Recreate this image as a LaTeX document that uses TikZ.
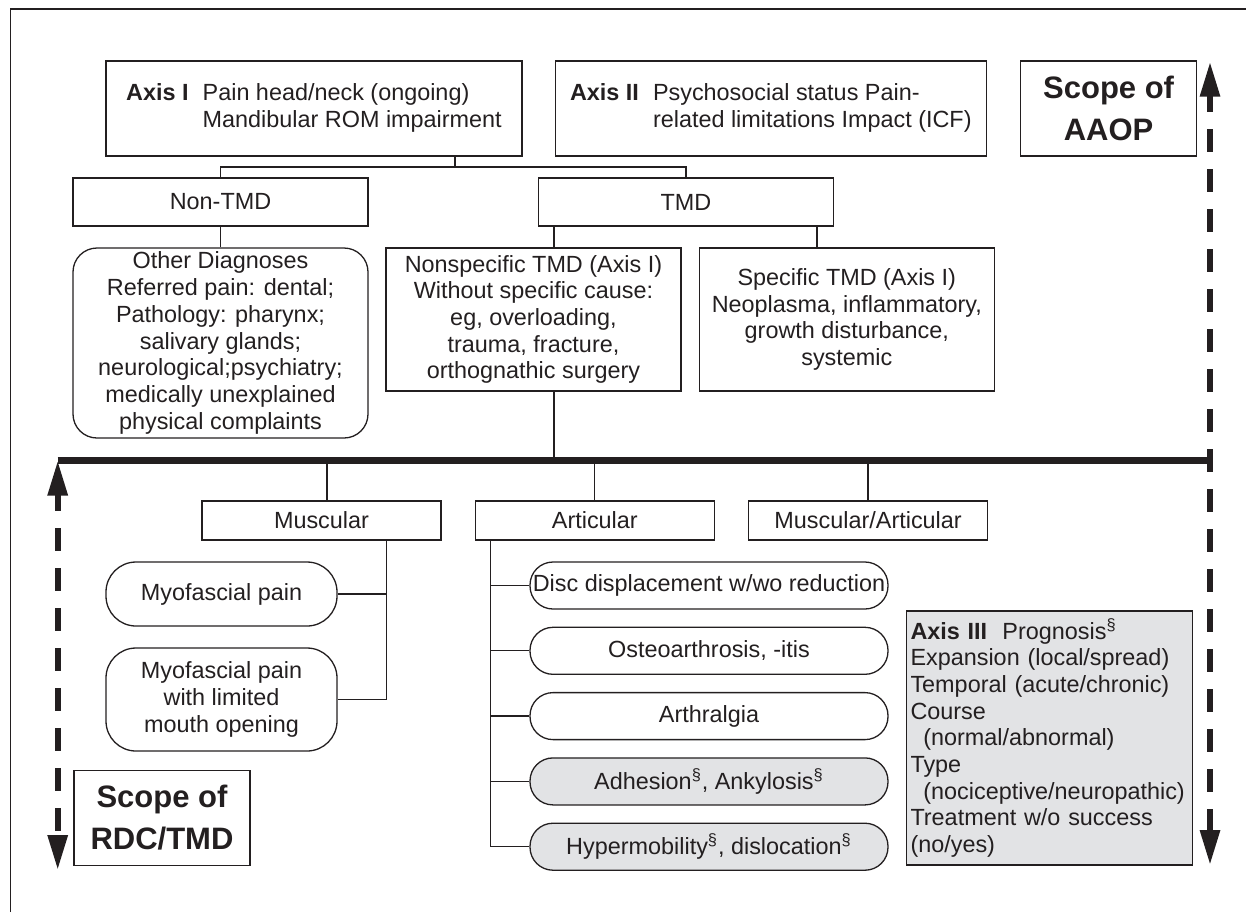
\documentclass[tikz,border=0pt]{standalone}
\usepackage{fontspec}
\setmainfont{Liberation Sans}
\usetikzlibrary{positioning}
\usetikzlibrary{arrows.meta}
\definecolor{ink}{RGB}{35,31,32}
\definecolor{shade}{RGB}{226,227,229}

\begin{document}
\begin{tikzpicture}[x=0.5pt,y=-0.5pt,
  every node/.style={text=ink,font=\fontsize{11.7}{13.35}\selectfont},
  box/.style={draw=ink,line width=0.65pt,inner sep=2pt,align=center},
  roundbox/.style={box,rounded corners=12pt},
  pill/.style={box,rounded corners=11.5pt,inner sep=0pt,minimum width=179pt,minimum height=23.5pt},
  scopebox/.style={box,font=\fontsize{15.5}{21}\selectfont\bfseries,minimum width=88pt,minimum height=47.5pt},
  scopeline/.style={draw=ink,line width=3pt,dash pattern=on 11.5pt off 8.5pt,dash phase=3pt,
    {Triangle[length=17.5pt,width=9.5pt]}-{Triangle[length=17.5pt,width=9.5pt]}},
  link/.style={draw=ink,line width=0.65pt}]
\useasboundingbox (0,0) rectangle (1246,912);
\path[link] (10.7,912) -- (10.7,9) -- (1246,9);
%% upper part: axes I, II
\path node[box,minimum width=208pt,minimum height=47.5pt] (axisI) at (314,108.5)
  {\begin{tabular}{@{}l@{\hspace{0.6em}}l@{}}\textbf{Axis I} & Pain head/neck (ongoing)\\ & Mandibular ROM impairment\end{tabular}};
\path node[box,minimum width=215.5pt,minimum height=47.5pt,right=16pt of axisI] (axisII)
  {\begin{tabular}{@{}l@{\hspace{0.6em}}l@{}}\textbf{Axis II} & Psychosocial status Pain-\\ & related limitations Impact (ICF)\end{tabular}};
\path node[scopebox,right=16.5pt of axisII] (aaop) {Scope of\\AAOP};
\path node[box,minimum width=147.5pt,minimum height=24pt] (nontmd) at (220.5,202) {Non-TMD};
\path node[box,minimum width=147.5pt,minimum height=24pt] (tmd) at (686,202) {TMD};
\path node[roundbox,minimum width=147.5pt,minimum height=95pt] (other) at (220.5,343)
  {Other Diagnoses\\Referred pain: dental;\\Pathology: pharynx;\\salivary glands;\\neurological;psychiatry;\\medically unexplained\\physical complaints};
\path node[box,minimum width=147.5pt,minimum height=71.5pt] (nonspec) at (533.5,319.5)
  {Nonspecific TMD (Axis I)\\Without specific cause:\\eg, overloading,\\trauma, fracture,\\orthognathic surgery};
\path node[box,minimum width=147.5pt,minimum height=71.5pt,right=8.5pt of nonspec] (spec)
  {Specific TMD (Axis I)\\Neoplasma, inflammatory,\\growth disturbance,\\systemic};
\coordinate (j1) at (455,167);
\coordinate (j2) at (554,460.5);
\coordinate (j3) at (817,0);
\path[link,draw] (nontmd.north) |- (j1) -| (tmd.north);
\path[link] (j1) edge (j1 |- axisI.south);
\path[link] (nontmd) edge (other);
\path[link] (j2 |- tmd.south) edge (j2 |- nonspec.north)
  (j2 |- nonspec.south) edge (j2);
\path[link] (j3 |- tmd.south) edge (j3 |- spec.north);
%% the RDC/TMD line
\coordinate (barL) at (57.7,460.5);
\coordinate (barR) at (1210,460.5);
\coordinate (aaopTop) at (1210,61.7);
\coordinate (aaopBot) at (1210,865);
\coordinate (rdcBot) at (57.7,870);
\path[scopeline] (aaopTop) -- (aaopBot);
\path[scopeline] (barL) -- (rdcBot);
\path[draw=ink,line width=3.5pt] (barL) -- ([xshift=1.5pt]barR);
%% lower part
\path node[box,minimum width=119.5pt,minimum height=19.5pt] (muscular) at (321.5,520.5) {Muscular};
\path node[box,minimum width=119.5pt,minimum height=19.5pt,right=16.5pt of muscular] (articular) {Articular};
\path node[box,minimum width=119.5pt,minimum height=19.5pt,right=16.5pt of articular] (musart) {Muscular/Articular};
\path[link] ([xshift=2.75pt]muscular.north) edge ([xshift=2.75pt]muscular.north |- barL)
  (articular.north) edge (articular.north |- barL)
  (musart.north) edge (musart.north |- barL);
\path node[roundbox,rounded corners=15pt,minimum width=115.5pt,minimum height=32pt] (myo) at (221.5,594) {Myofascial pain};
\path node[roundbox,rounded corners=15pt,minimum width=115.5pt,minimum height=51.5pt] (myolim) at (221.5,699.5)
  {Myofascial pain\\with limited\\mouth opening};
\coordinate (mb) at ([xshift=-27.75pt]muscular.south east);
\path[link,draw] (mb) |- (myolim.east);
\path[link] (myo.east) edge (myo.east -| mb);
\path node[scopebox] (rdc) at (162,818) {Scope of\\RDC/TMD};
\path node[pill] (disc) at (709,585.5) {Disc displacement w/wo reduction};
\path node[pill,below=8.5pt of disc] (osteo) {Osteoarthrosis, -itis};
\path node[pill,below=8.5pt of osteo] (arthr) {Arthralgia};
\path node[pill,fill=shade,below=8.5pt of arthr] (adhes) {Adhesion\textsuperscript{\S}, Ankylosis\textsuperscript{\S}};
\path node[pill,fill=shade,below=8.5pt of adhes] (hyper) {Hypermobility\textsuperscript{\S}, dislocation\textsuperscript{\S}};
\coordinate (ab) at ([xshift=7.75pt]articular.south west);
\path[link,draw] (ab) |- (hyper.west);
\foreach \n in {disc,osteo,arthr,adhes}
  \path[link] (\n.west) edge (\n.west -| ab);
\path node[box,fill=shade,align=left,text width=139pt,minimum height=127pt] (axisIII) at (1049.5,738)
  {\textbf{Axis III}\hspace{0.65em}Prognosis\textsuperscript{\S}\\Expansion (local/spread)\\Temporal (acute/chronic)\\Course\\
   \hspace*{0.55em}(normal/abnormal)\\Type\\\hspace*{0.55em}(nociceptive/neuropathic)\\Treatment w/o success\\(no/yes)};
\end{tikzpicture}
\end{document}
